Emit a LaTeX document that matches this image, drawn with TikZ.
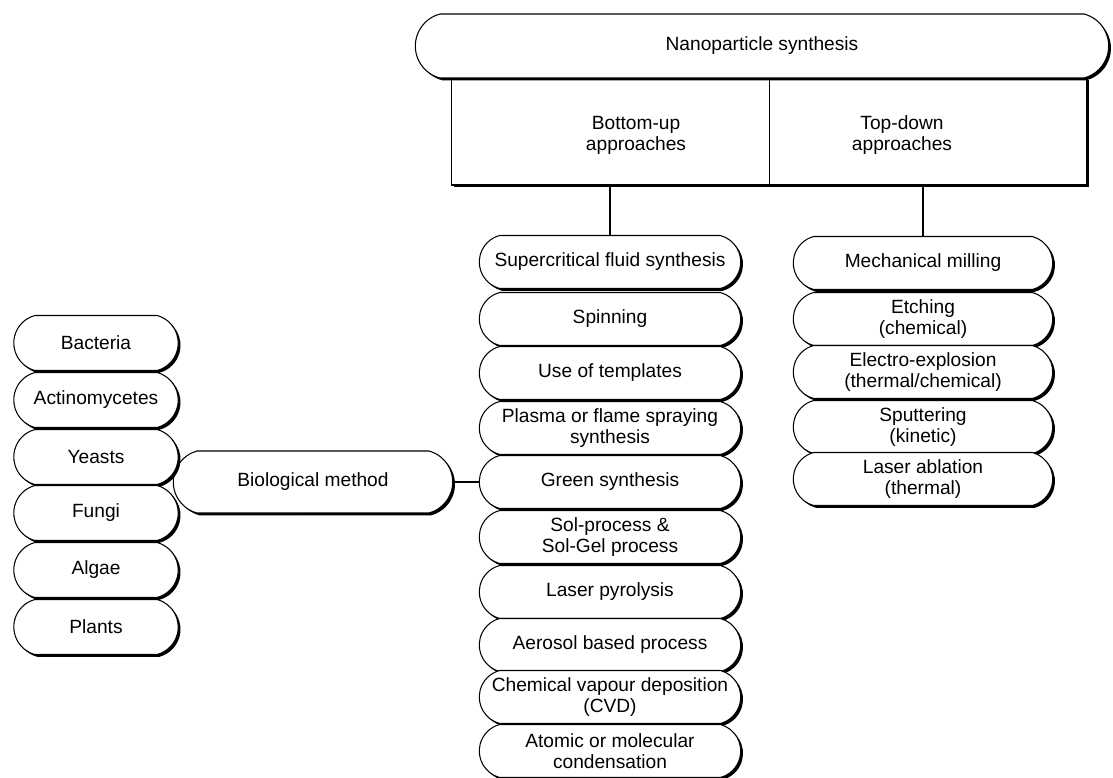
\documentclass[tikz,border=0pt]{standalone}
\usepackage{fontspec}
\setmainfont{Liberation Sans}
\usetikzlibrary{shapes.misc, shadows}

\begin{document}
\begin{tikzpicture}[x=0.02cm, y=-0.02cm,
			font=\fontsize{10.9}{12}\selectfont,
			shadowed/.style={drop shadow={shadow xshift=1.3pt, shadow yshift=-1.3pt, opacity=1, fill=black}},
			pill/.style={draw, fill=white, line width=0.6pt, rounded rectangle, rounded rectangle arc length=150, align=center, inner sep=1pt, shadowed},
			leftpill/.style={pill, minimum width=3.36cm, minimum height=1.1cm},
			midpill/.style={pill, minimum width=5.3cm, minimum height=1.06cm},
			rightpill/.style={pill, minimum width=5.26cm, minimum height=1.06cm},
			halfbox/.style={draw, fill=white, line width=0.6pt, rectangle, minimum width=6.36cm, minimum height=2.14cm, shadowed},
			conn/.style={draw, line width=0.6pt}]
			\useasboundingbox (0,0) rectangle (1113,778);
			% Kasten mit beiden Ansaetzen
			\node[halfbox] (bu) at (610.5,131.5) {};
			\node[halfbox] (td) at (928,131.5) {};
			\node[align=center] (butxt) at (636,135) {Bottom-up\\approaches};
			\node[align=center] (tdtxt) at (902,135) {Top-down\\approaches};
			% Oberbegriff
			\node[pill, minimum width=13.94cm, minimum height=1.28cm] (top) at (762,46) {Nanoparticle synthesis};
			% Bottom-up Spalte
			\foreach \i/\y/\txt in {1/262/Supercritical fluid synthesis, 2/319/Spinning, 3/373/Use of templates,
				4/428/Plasma or flame spraying\\synthesis, 5/482/Green synthesis, 6/537/Sol-process \&\\Sol-Gel process,
				7/592/Laser pyrolysis, 8/645/Aerosol based process, 9/697/Chemical vapour deposition\\(CVD),
				10/751/Atomic or molecular\\condensation}
				\node[midpill] (m\i) at (610,\y) {\txt};
			% Top-down Spalte
			\foreach \i/\y/\txt in {1/263/Mechanical milling, 2/319/Etching\\(chemical), 3/372/{Electro-explosion\\(thermal/chemical)},
				4/427/Sputtering\\(kinetic), 5/479/Laser ablation\\(thermal)}
				\node[rightpill] (r\i) at (923,\y) {\txt};
			% Biologische Methode
			\node[pill, minimum width=5.66cm, minimum height=1.24cm] (bio) at (313,482) {Biological method};
			\foreach \i/\y/\txt in {1/343/Bacteria, 2/400/Actinomycetes, 3/457/Yeasts, 4/513/Fungi, 5/570/Algae, 6/627/Plants}
				\node[leftpill] (b\i) at (96,\y) {\txt};
			% Verbindungen
			\draw[conn] (m1.north |- bu.south) -- (m1.north);
			\draw[conn] (r1.north |- td.south) -- (r1.north);
			\draw[conn] (bio.east) -- (m5.west);
		\end{tikzpicture}
\end{document}
